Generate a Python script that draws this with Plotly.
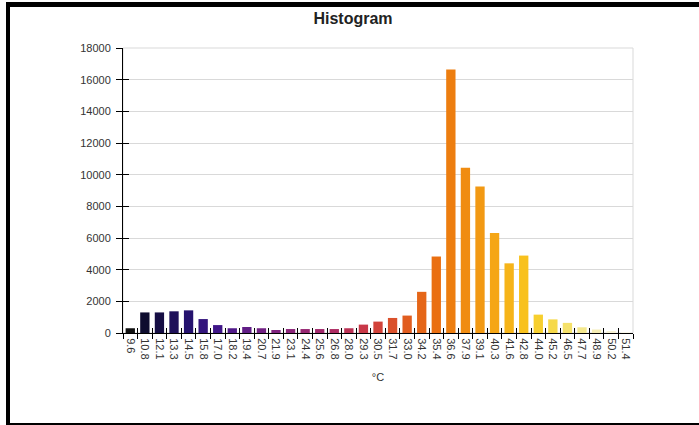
import plotly.graph_objects as go

# bin labels (°C) and counts per bin
bins = ["9.6", "10.8", "12.1", "13.3", "14.5", "15.8", "17.0", "18.2", "19.4", "20.7",
        "21.9", "23.1", "24.4", "25.6", "26.8", "28.0", "29.3", "30.5", "31.7", "33.0",
        "34.2", "35.4", "36.6", "37.9", "39.1", "40.3", "41.6", "42.8", "44.0", "45.2",
        "46.5", "47.7", "48.9", "50.2", "51.4"]
counts = [300, 1300, 1300, 1370, 1430, 880, 500, 300, 380, 300,
          190, 250, 250, 250, 250, 300, 530, 720, 950, 1100,
          2600, 4830, 16640, 10430, 9250, 6320, 4400, 4890, 1160, 860,
          640, 360, 220, 100, 50]
y_ticks = list(range(0, 18001, 2000))

# thermal style palette: black -> blue -> purple -> red -> orange -> yellow
thermal = [
    [0.00, "#111111"], [0.03, "#0e0c30"], [0.12, "#261270"], [0.18, "#42168a"],
    [0.28, "#7a2282"], [0.40, "#a82a68"], [0.48, "#cc3a44"], [0.55, "#e05a22"],
    [0.62, "#ea7010"], [0.66, "#ef8510"], [0.74, "#f5a816"], [0.80, "#f8c41e"],
    [0.84, "#f6d63a"], [0.90, "#f4e67e"], [0.96, "#f6f0cc"], [1.00, "#faf8ea"],
]

W, H = 699, 425
ML, MR, MT, MB = 123, 66, 48, 92
PW, PH = W - ML - MR, H - MT - MB


def px(x):
    return (x - ML) / PW


def py(y):
    return (H - MB - y) / PH


fig = go.Figure()
fig.add_trace(go.Bar(
    x=bins, y=counts,
    marker=dict(color=list(range(len(bins))), colorscale=thermal,
                cmin=0, cmax=len(bins) - 1, line=dict(width=0)),
    showlegend=False, hoverinfo="x+y",
))
# dummy trace for the overlay axis carrying the inner half of the ticks
fig.add_trace(go.Scatter(x=[-0.5, len(bins) - 0.5], y=[0, 0], xaxis="x2", yaxis="y2",
                         mode="markers", marker=dict(opacity=0), showlegend=False,
                         hoverinfo="skip"))

tick_font = dict(family="Liberation Sans, Arial, sans-serif", size=11, color="#333333")

fig.update_layout(
    width=W, height=H,
    margin=dict(l=ML, r=MR, t=MT, b=MB),
    paper_bgcolor="white", plot_bgcolor="white",
    bargap=0.36,
    title=dict(text="<b>Histogram</b>", x=0.505, xanchor="center", y=0.957, yanchor="middle",
               font=dict(family="Liberation Sans, Arial, sans-serif", size=16, color="#222222")),
    xaxis=dict(type="category", tickson="boundaries", ticks="outside", ticklen=5,
               tickcolor="black", tickangle=90, tickfont=tick_font, ticklabelstandoff=2,
               showline=True, linecolor="black", linewidth=1, showgrid=False,
               title=dict(text="°C", font=tick_font, standoff=14)),
    yaxis=dict(range=[0, 18000], tickvals=y_ticks, tickformat="d", ticks="outside", ticklen=6,
               ticklabelstandoff=3,
               tickcolor="black", tickfont=tick_font, showline=True, linecolor="black",
               linewidth=1, gridcolor="#d9d9d9", zeroline=False),
    xaxis2=dict(overlaying="x", range=[-0.5, len(bins) - 0.5], tick0=-0.5, dtick=1,
                ticks="inside", ticklen=5, tickcolor="black", showticklabels=False,
                showgrid=False, zeroline=False, showline=False),
    yaxis2=dict(overlaying="y", range=[0, 18000], tickvals=y_ticks, ticks="inside",
                ticklen=6, tickcolor="black", showticklabels=False, showgrid=False,
                zeroline=False, showline=False),
    shapes=[
        # light plot border (top / right)
        dict(type="rect", xref="paper", yref="paper", x0=0, x1=1, y0=0, y1=1,
             line=dict(color="#d9d9d9", width=1), layer="below"),
        # black frame around the picture
        dict(type="rect", xref="paper", yref="paper", x0=px(6), x1=px(10), y0=py(425), y1=py(2),
             fillcolor="black", line=dict(width=0)),
        dict(type="rect", xref="paper", yref="paper", x0=px(6), x1=px(699), y0=py(7), y1=py(2),
             fillcolor="black", line=dict(width=0)),
        dict(type="rect", xref="paper", yref="paper", x0=px(6), x1=px(699), y0=py(425), y1=py(423),
             fillcolor="black", line=dict(width=0)),
    ],
)

# drop the default body margin so the figure fills the window
fig.write_html("out.html", config={"displayModeBar": False},
               post_script="document.body.style.margin='0px';")
